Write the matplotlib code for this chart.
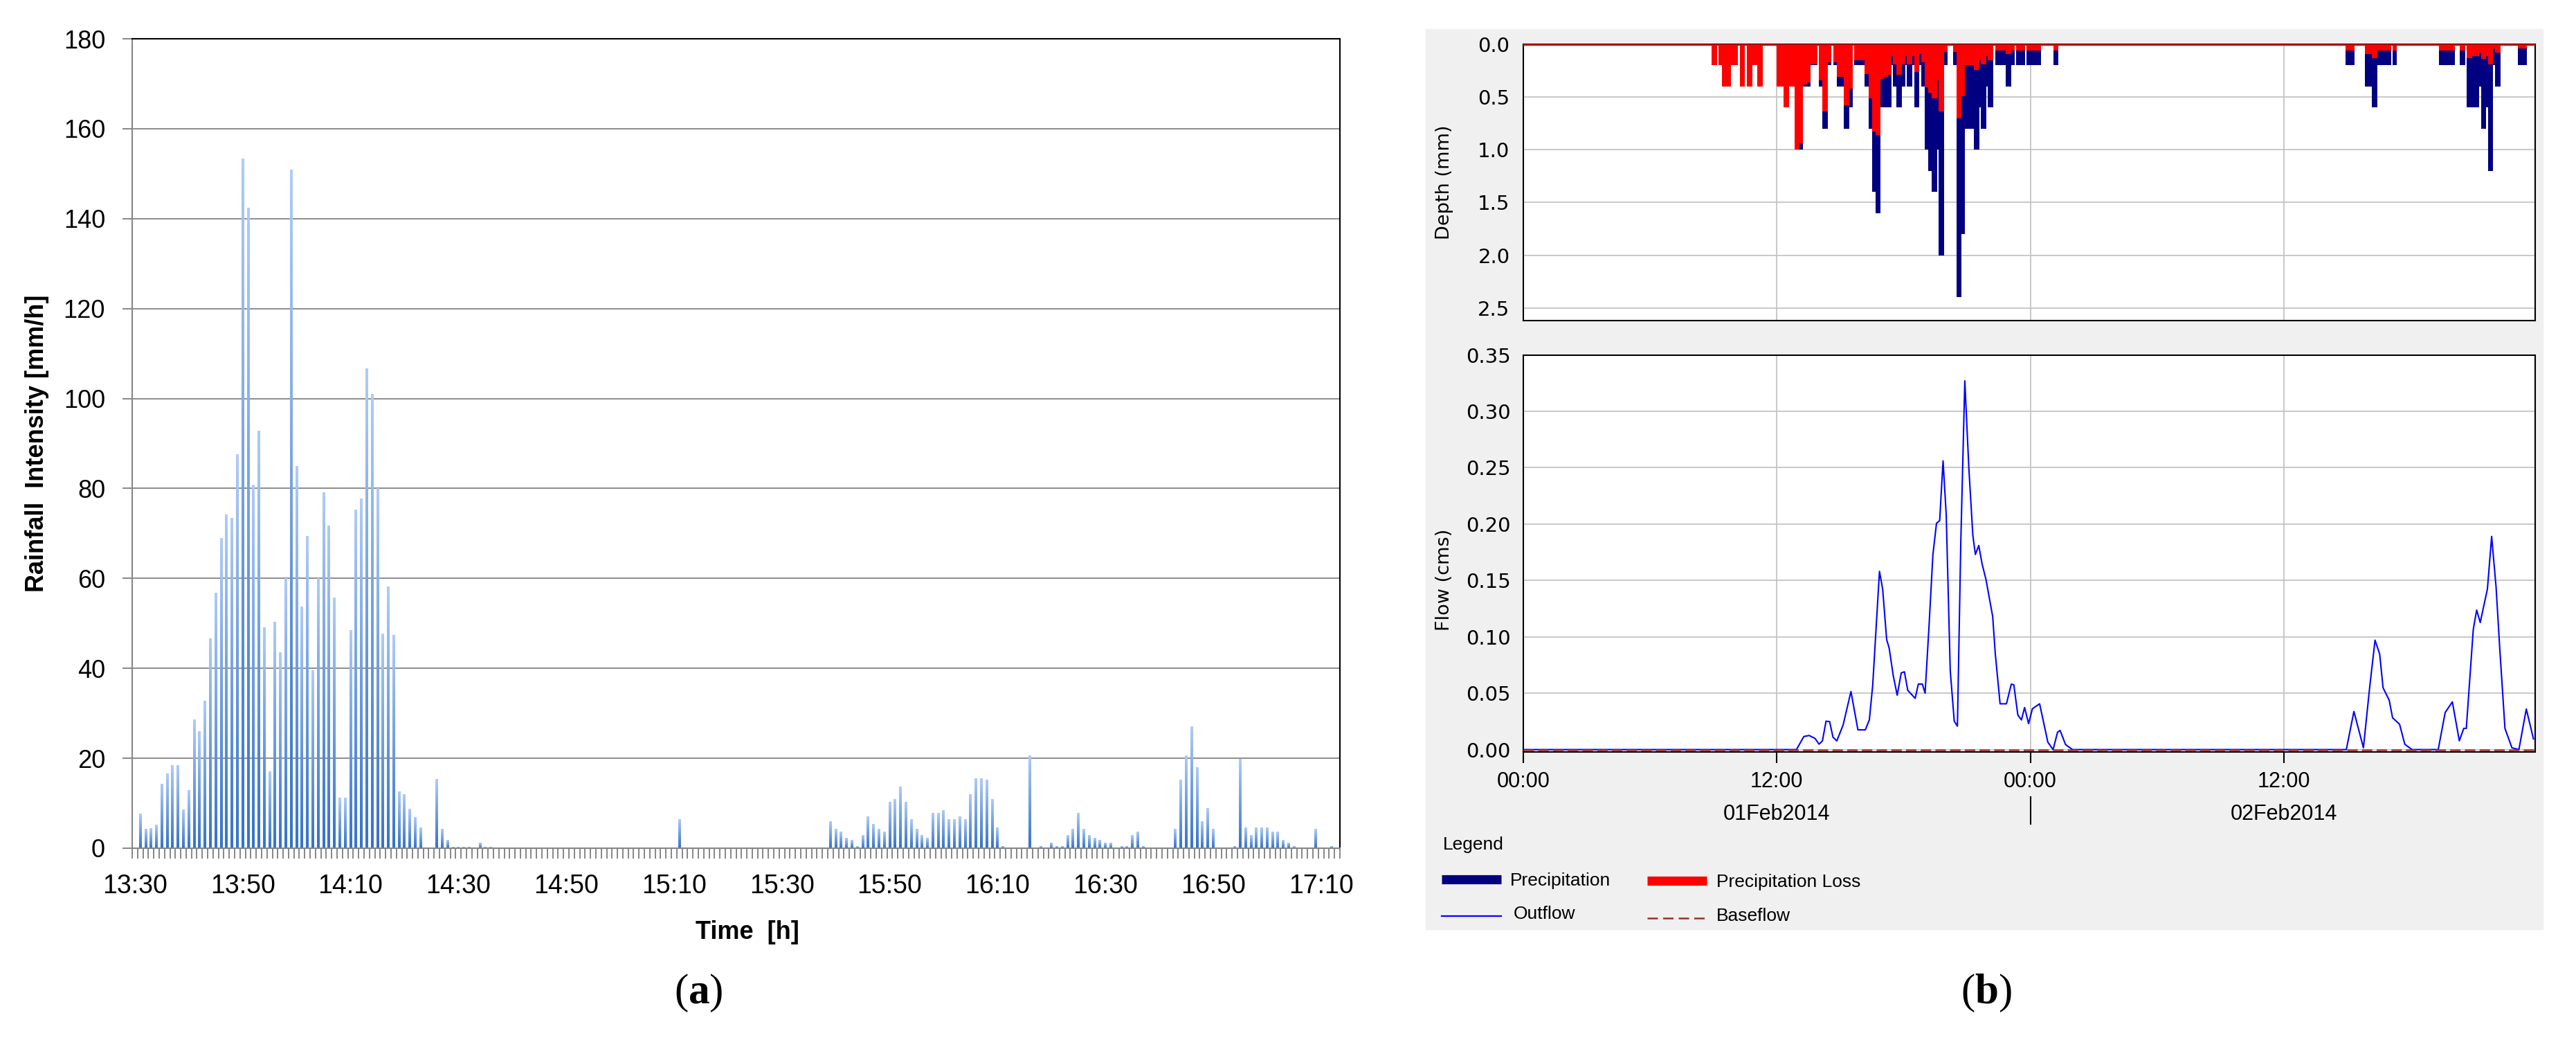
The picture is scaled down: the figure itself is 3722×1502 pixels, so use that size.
import numpy as np
import matplotlib
matplotlib.use("Agg")
import matplotlib.pyplot as plt
from matplotlib.colors import LinearSegmentedColormap
from matplotlib.lines import Line2D
from matplotlib.patches import Rectangle
from matplotlib.ticker import FormatStrFormatter

plt.rcParams["font.family"] = ["Liberation Sans", "DejaVu Sans"]
plt.rcParams["mathtext.fontset"] = "custom"
plt.rcParams["mathtext.rm"] = "Liberation Serif"
plt.rcParams["mathtext.bf"] = "Liberation Serif:bold"

# ---- (a) one-minute rainfall intensity, minute index counted from 13:30 ----
n_minutes = 224
rain_minute = [
    1, 2, 3, 4, 5, 6, 7, 8, 9, 10, 11, 12, 13, 14, 15, 16, 17, 18, 19, 20,
    21, 22, 23, 24, 25, 26, 27, 28, 29, 30, 31, 32, 33, 34, 35, 36, 37, 38, 39, 40,
    41, 42, 43, 44, 45, 46, 47, 48, 49, 50, 51, 52, 53,
    56, 57, 58, 59, 60, 61, 62, 64, 65, 66,
    101,
    129, 130, 131, 132, 133, 134, 135, 136, 137, 138, 139, 140, 141, 142, 143, 144,
    145, 146, 147, 148, 149, 150, 151, 152, 153, 154, 155, 156, 157, 158, 159, 160, 161,
    166, 168, 170, 171, 172, 173, 174, 175, 176, 177, 178, 179, 180, 181, 183, 184,
    185, 186, 187,
    193, 194, 195, 196, 197, 198, 199, 200,
    204, 205, 206, 207, 208, 209, 210, 211, 212, 213, 214, 215,
    219, 222,
]
rain_intensity = [
    7.6, 4.2, 4.4, 5.2, 14.2, 16.6, 18.4, 18.4, 8.6, 12.8, 28.5, 26.0, 32.7, 46.6, 56.7,
    68.9, 74.1, 73.4, 87.5, 153.3,
    142.4, 80.8, 92.7, 49.1, 17.0, 50.2, 43.5, 59.9, 150.8, 84.9, 53.7, 69.4, 39.5, 59.9,
    79.1, 71.7, 55.7, 11.1, 11.1, 48.4,
    75.2, 77.7, 106.6, 101.0, 80.0, 47.7, 58.1, 47.4, 12.5, 11.9, 8.7, 6.9, 4.5,
    15.3, 4.2, 1.7, 0.3, 0.3, 0.3, 0.3, 1.1, 0.3, 0.3,
    6.4,
    6.0, 4.3, 3.6, 2.2, 1.8, 0.4, 2.9, 7.0, 5.3, 4.3, 3.6, 10.3, 10.9, 13.7, 10.3, 6.4,
    4.3, 2.9, 2.2, 7.8, 7.8, 8.4, 6.4, 6.4, 7.0, 6.4, 12.0, 15.5, 15.5, 15.2, 10.9, 4.6, 0.4,
    20.5, 0.4, 1.1, 0.4, 0.4, 2.9, 4.3, 7.8, 4.3, 2.9, 2.2, 1.8, 1.1, 1.1, 0.4, 0.4,
    2.9, 3.6, 0.4,
    4.3, 15.2, 20.5, 27.1, 18.0, 6.0, 8.9, 4.3,
    0.4, 19.8, 4.6, 2.9, 4.6, 4.6, 4.6, 3.6, 3.6, 1.8, 1.1, 0.4,
    4.3, 0.4,
]
time_labels = ["13:30", "13:50", "14:10", "14:30", "14:50", "15:10",
               "15:30", "15:50", "16:10", "16:30", "16:50", "17:10"]
label_every = 20

# ---- (b) HEC-HMS run, blocks of 5-minute steps counted from 01Feb2014 00:00 ----
block_start = [
    107, 111, 113, 118, 123, 127, 130, 133, 144, 148, 151, 154, 157, 159, 161, 163,
    168, 170, 173, 176, 178, 182, 185, 188, 194, 196, 198, 200, 203, 205, 207, 209,
    210, 212, 215, 217, 218, 221, 222, 225, 226, 228, 230, 232, 235, 236, 239, 244,
    246, 249, 251, 256, 259, 260, 263, 264, 268, 274, 277, 280, 286, 301,
    467, 478, 482, 485, 494, 520, 532, 536, 539, 543, 544, 547, 548, 551, 552, 565,
]
block_steps = [
    3, 2, 5, 4, 3, 3, 3, 3, 4, 3, 3, 3, 2, 2, 2, 4,
    2, 3, 2, 2, 4, 3, 2, 6, 2, 2, 2, 3, 2, 2, 2, 1,
    2, 3, 2, 1, 3, 1, 3, 1, 2, 2, 2, 3, 1, 3, 2, 2,
    3, 2, 5, 3, 1, 3, 1, 3, 6, 3, 2, 5, 8, 3,
    5, 4, 3, 8, 2, 9, 3, 3, 4, 1, 3, 1, 3, 1, 3, 5,
]
precip_mm = [
    0.2, 0.2, 0.4, 0.2, 0.4, 0.4, 0.2, 0.4, 0.4, 0.6, 0.4, 1.0, 1.0, 0.4, 0.4, 0.2,
    0.4, 0.8, 0.2, 0.2, 0.4, 0.8, 0.6, 0.2, 0.4, 0.8, 1.4, 1.6, 0.6, 0.6, 0.6, 0.2,
    0.4, 0.6, 0.4, 0.2, 0.4, 0.2, 0.6, 0.2, 0.4, 1.0, 1.2, 1.4, 1.0, 2.0, 0.2, 0.2,
    2.4, 1.8, 0.8, 1.0, 0.6, 0.8, 0.4, 0.6, 0.2, 0.4, 0.2, 0.2, 0.2, 0.2,
    0.2, 0.4, 0.6, 0.2, 0.2, 0.2, 0.2, 0.6, 0.6, 0.4, 0.8, 0.6, 1.2, 0.2, 0.4, 0.2,
]
loss_mm = [
    0.2, 0.2, 0.4, 0.2, 0.4, 0.4, 0.2, 0.4, 0.4, 0.6, 0.4, 1.0, 0.94, 0.38, 0.36, 0.19,
    0.34, 0.64, 0.17, 0.17, 0.31, 0.58, 0.42, 0.15, 0.28, 0.51, 0.83, 0.86, 0.33, 0.31, 0.29, 0.11,
    0.19, 0.29, 0.19, 0.11, 0.19, 0.11, 0.26, 0.09, 0.17, 0.41, 0.46, 0.51, 0.34, 0.64, 0.07, 0.07,
    0.70, 0.49, 0.20, 0.24, 0.15, 0.19, 0.11, 0.15, 0.06, 0.09, 0.06, 0.06, 0.06, 0.06,
    0.06, 0.09, 0.13, 0.06, 0.06, 0.06, 0.06, 0.13, 0.11, 0.08, 0.14, 0.11, 0.19, 0.04, 0.08, 0.04,
]

# outflow hydrograph, hours after 01Feb2014 00:00
flow_hour = [
    0.0, 12.93, 13.28, 13.53, 13.81, 14.0, 14.16, 14.33, 14.5, 14.66, 14.84, 15.14, 15.51,
    15.84, 16.19, 16.38, 16.54, 16.86, 17.01, 17.2, 17.32, 17.51, 17.7, 17.89, 18.04, 18.2,
    18.55, 18.7, 18.89, 19.02, 19.2, 19.39, 19.56, 19.71, 19.87, 20.02, 20.21, 20.4, 20.55,
    20.71, 20.9, 21.09, 21.28, 21.4, 21.56, 21.72, 21.9, 22.22, 22.34, 22.57, 22.87, 23.1,
    23.22, 23.41, 23.58, 23.73, 23.92, 24.1, 24.44, 24.58, 24.83, 25.08, 25.29, 25.41, 25.67,
    26.0, 38.96, 39.32, 39.77, 40.07, 40.32, 40.54, 40.7, 40.99, 41.15, 41.48, 41.73, 42.07,
    43.31, 43.64, 43.98, 44.31, 44.52, 44.64, 44.97, 45.13, 45.3, 45.64, 45.84, 46.05, 46.22,
    46.47, 46.8, 47.13, 47.48, 47.82,
]
outflow_cms = [
    0.0, 0.0, 0.0116, 0.0125, 0.0099, 0.0048, 0.0077, 0.0252, 0.0248, 0.011, 0.0077, 0.0219, 0.0515,
    0.0175, 0.0175, 0.0263, 0.057, 0.158, 0.1425, 0.0976, 0.0899, 0.0658, 0.0482, 0.068, 0.069, 0.0526,
    0.0454, 0.0581, 0.0581, 0.05, 0.1075, 0.173, 0.2007, 0.203, 0.256, 0.2083, 0.0702, 0.0252, 0.0208,
    0.184, 0.327, 0.25, 0.19, 0.173, 0.181, 0.1645, 0.151, 0.118, 0.0855, 0.0406, 0.0406, 0.058,
    0.0575, 0.0307, 0.0263, 0.0373, 0.023, 0.0362, 0.0406, 0.0285, 0.0066, 0.0, 0.0154, 0.017, 0.0044,
    0.0, 0.0, 0.0338, 0.0016, 0.056, 0.097, 0.0846, 0.0548, 0.0438, 0.0282, 0.0225, 0.0047, 0.0,
    0.0, 0.0329, 0.0423, 0.0078, 0.0188, 0.0188, 0.1065, 0.1237, 0.1127, 0.1425, 0.189, 0.144, 0.0908,
    0.0188, 0.0016, 0.0, 0.036, 0.0094,
]
date_labels = ["01Feb2014", "02Feb2014"]

W, H = 3723, 1502
fig = plt.figure(figsize=(W / 100, H / 100), dpi=100)

# ================= panel (a) =================
ax = fig.add_axes([191 / W, 1 - 1225 / H, 1745 / W, 1169 / H])
bars = ax.bar(rain_minute, rain_intensity, width=0.5, color="none", edgecolor="none", zorder=2)
grad = np.linspace(0, 1, 100).reshape(-1, 1)
excel_blue = LinearSegmentedColormap.from_list("excel_blue", ["#3572cc", "#aecbf7"])
for b in bars:
    x0, w, h = b.get_x(), b.get_width(), b.get_height()
    ax.imshow(grad, extent=(x0, x0 + w, 0, h), origin="lower", aspect="auto",
              cmap=excel_blue, zorder=2, interpolation="bilinear")
ax.set_xlim(-0.5, n_minutes - 0.5)
ax.set_ylim(0, 180)
ax.set_yticks(np.arange(0, 181, 20))
ax.yaxis.grid(True, color="#8c8c8c", lw=1.4)
ax.set_axisbelow(True)
ax.tick_params(axis="y", length=10, width=1.4, color="#868686", pad=18, labelsize=26)
ax.set_xticks(range(0, n_minutes, label_every))
ax.set_xticklabels(time_labels)
ax.set_xticks(np.arange(-0.5, n_minutes, 1), minor=True)
ax.tick_params(axis="x", which="major", length=0, pad=27, labelsize=27)
ax.tick_params(axis="x", which="minor", length=11, width=1.4, color="#868686")
for s in ("left", "bottom"):
    ax.spines[s].set_color("#868686")
    ax.spines[s].set_linewidth(1.5)
for s in ("top", "right"):
    ax.spines[s].set_color("black")
    ax.spines[s].set_linewidth(1.5)
ax.set_ylabel("Rainfall  Intensity [mm/h]", fontsize=26, fontweight="bold")
ax.yaxis.set_label_coords(-0.0688, 0.5)
ax.set_xlabel("Time  [h]", fontsize=26, fontweight="bold")
ax.xaxis.set_label_coords(0.5095, -0.089)

# ================= panel (b) =================
fig.patches.append(Rectangle((2060 / W, 1 - 1342 / H), 1614 / W, 1300 / H,
                             transform=fig.transFigure, color="#f0f0f0", zorder=-5))

hours_per_step = 5 / 60
starts = np.array(block_start) * hours_per_step
widths = np.array(block_steps) * hours_per_step
x_end = 47.9

ax_p = fig.add_axes([2201 / W, 1 - 463 / H, 1462 / W, 399 / H])
ax_p.bar(starts, precip_mm, width=widths, align="edge", color="#000080", lw=0, zorder=2)
ax_p.bar(starts, loss_mm, width=widths, align="edge", color="#ff0000", lw=0, zorder=3)
ax_p.axhline(0, color="#ff0000", lw=2.4, zorder=4)
ax_p.set_xlim(0, x_end)
ax_p.set_ylim(2.62, 0)
ax_p.set_yticks(np.arange(0, 2.51, 0.5))
ax_p.yaxis.set_major_formatter(FormatStrFormatter("%.1f"))
ax_p.set_xticks([0, 12, 24, 36])
ax_p.set_xticklabels([])
ax_p.grid(True, color="#c4c4c4", lw=1.3)
ax_p.set_axisbelow(True)
ax_p.tick_params(axis="x", length=0)
ax_p.tick_params(axis="y", length=0, pad=14, labelsize=21, labelfontfamily="DejaVu Sans")
ax_p.set_ylabel("Depth (mm)", fontsize=19.5, family="DejaVu Sans")
ax_p.yaxis.set_label_coords(-0.069, 0.5)

ax_q = fig.add_axes([2201 / W, 1 - 1086 / H, 1462 / W, 573.5 / H])
ax_q.plot(flow_hour, outflow_cms, color="#0000ff", lw=1.5, zorder=3)
ax_q.axhline(0, color="#a52a2a", lw=1.8, ls=(0, (6, 2.5)), zorder=4)
ax_q.set_xlim(0, x_end)
ax_q.set_ylim(-0.0021, 0.35)
ax_q.set_yticks(np.arange(0, 0.351, 0.05))
ax_q.yaxis.set_major_formatter(FormatStrFormatter("%.2f"))
ax_q.set_xticks([0, 12, 24, 36])
ax_q.set_xticklabels(["00:00", "12:00", "00:00", "12:00"])
ax_q.grid(True, color="#c4c4c4", lw=1.3)
ax_q.set_axisbelow(True)
ax_q.tick_params(axis="x", length=11.5, width=1.5, pad=9, labelsize=22)
ax_q.tick_params(axis="y", length=0, pad=13, labelsize=21, labelfontfamily="DejaVu Sans")
ax_q.set_ylabel("Flow (cms)", fontsize=19.5, family="DejaVu Sans")
ax_q.yaxis.set_label_coords(-0.069, 0.434)

for a in (ax_p, ax_q):
    for s in a.spines.values():
        s.set_color("black")
        s.set_linewidth(1.5)

sec = ax_q.secondary_xaxis((1086 - 1150) / 573.5)
sec.spines["bottom"].set_visible(False)
sec.set_xticks([24], labels=[""])
sec.set_xticks([12, 36], labels=date_labels, minor=True)
sec.tick_params(which="major", length=29.5, width=1.5, direction="out", color="black")
sec.tick_params(which="minor", length=0, pad=8, labelsize=22)

# legend block drawn like the HEC-HMS legend
fs_leg = 19
fig.text(2085 / W, 1 - 1220 / H, "Legend", fontsize=fs_leg, va="center", ha="left")
fig.add_artist(Line2D([2083 / W, 2169 / W], [1 - 1270 / H] * 2, color="#000080", lw=9.5,
                      solid_capstyle="butt", transform=fig.transFigure))
fig.text(2182 / W, 1 - 1272 / H, "Precipitation", fontsize=fs_leg, va="center", ha="left")
fig.add_artist(Line2D([2380 / W, 2466 / W], [1 - 1272 / H] * 2, color="#ff0000", lw=9.5,
                      solid_capstyle="butt", transform=fig.transFigure))
fig.text(2480 / W, 1 - 1274 / H, "Precipitation Loss", fontsize=fs_leg, va="center", ha="left")
fig.add_artist(Line2D([2083 / W, 2169 / W], [1 - 1323 / H] * 2, color="#0000ff", lw=1.6,
                      transform=fig.transFigure))
fig.text(2187 / W, 1 - 1320 / H, "Outflow", fontsize=fs_leg, va="center", ha="left")
fig.add_artist(Line2D([2380 / W, 2466 / W], [1 - 1326 / H] * 2, color="#a52a2a", lw=1.8,
                      ls=(0, (6, 3)), transform=fig.transFigure))
fig.text(2480 / W, 1 - 1323 / H, "Baseflow", fontsize=fs_leg, va="center", ha="left")

# panel captions
fig.text(1009 / W, 1 - 1434 / H, r"($\mathbf{a}$)", ha="center", va="center",
         fontsize=44, family="Liberation Serif")
fig.text(2870 / W, 1 - 1434 / H, r"($\mathbf{b}$)", ha="center", va="center",
         fontsize=44, family="Liberation Serif")

fig.savefig("out.png", dpi=100)
